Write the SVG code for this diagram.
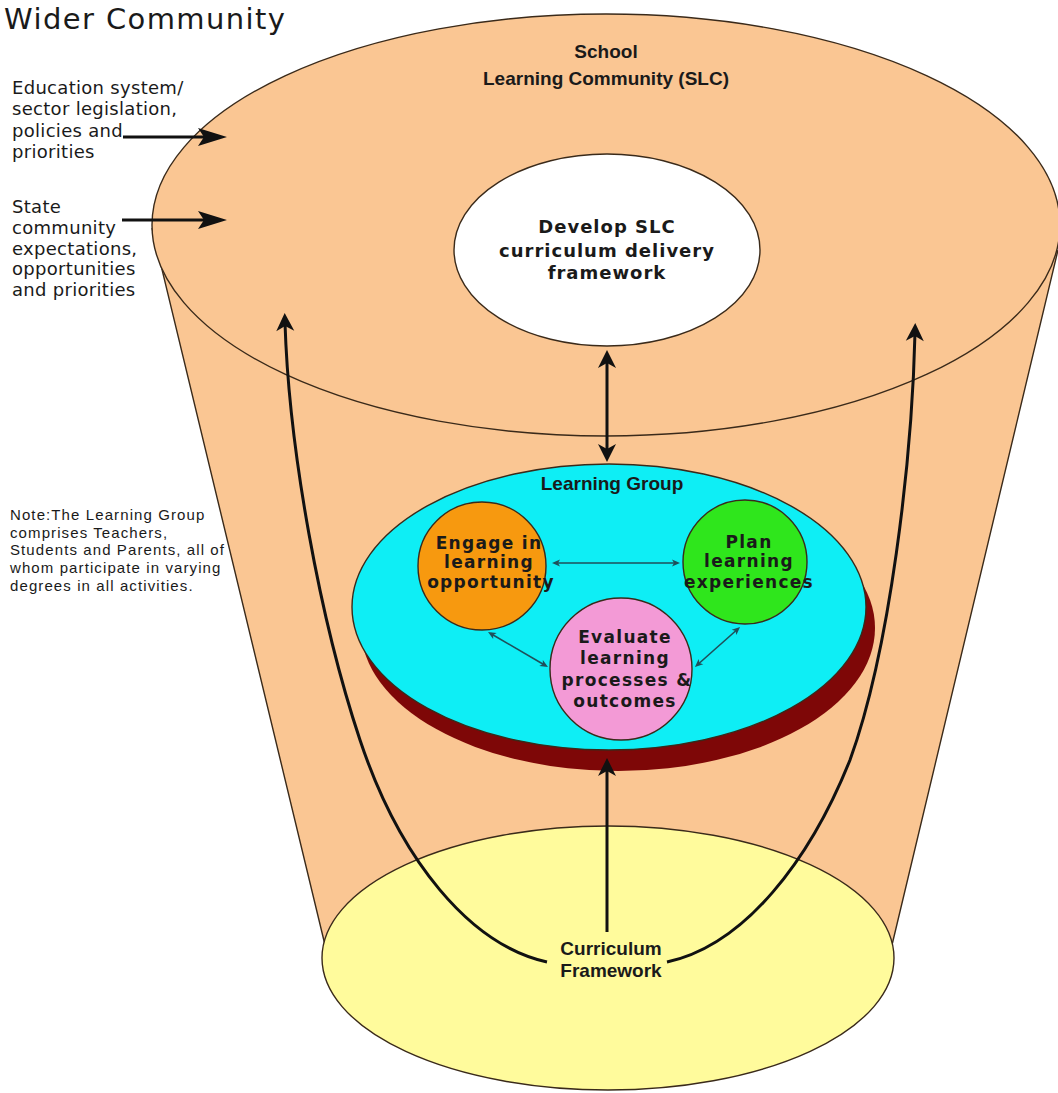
<svg xmlns="http://www.w3.org/2000/svg" width="1058" height="1093" viewBox="0 0 1058 1093">
<defs>
<style>
.edge{stroke:#3a2a1a;stroke-width:1.4;}
.conn{fill:none;stroke:#111;stroke-width:3;}
.small{fill:none;stroke:#1f4f5a;stroke-width:1.6;}
.tVer{font-family:"DejaVu Sans",Verdana,sans-serif;fill:#1a1a1a;}
.tBold{font-family:"DejaVu Sans",Verdana,sans-serif;font-weight:bold;fill:#1a1a1a;}
.tArB{font-family:"Liberation Sans",Arial,sans-serif;font-weight:bold;fill:#1a1a1a;}
.tAr{font-family:"Liberation Sans",Arial,sans-serif;fill:#1a1a1a;}
</style>
<marker id="big" markerUnits="userSpaceOnUse" markerWidth="22" markerHeight="22" viewBox="-20 -11 22 22" refX="-10" refY="0" orient="auto-start-reverse">
<path d="M0,0 L-18,-9 L-13,0 L-18,9 Z" fill="#111"/>
</marker>
<marker id="side" markerUnits="userSpaceOnUse" markerWidth="32" markerHeight="22" viewBox="-30 -11 32 22" refX="-10" refY="0" orient="auto">
<path d="M0,0 L-29,-9 L-23,0 L-29,9 Z" fill="#111"/>
</marker>
<marker id="tiny" markerUnits="userSpaceOnUse" markerWidth="10" markerHeight="10" viewBox="-9 -5 10 10" refX="-3" refY="0" orient="auto-start-reverse">
<path d="M0,0 L-8,-3.5 L-6,0 L-8,3.5 Z" fill="#1f4f5a"/>
</marker>
</defs>
<rect x="0" y="0" width="1058" height="1093" fill="#ffffff"/>

<g id="wider-community">
<text class="tVer" x="4" y="29" font-size="29" letter-spacing="1.4">Wider Community</text>
</g>

<g id="cone">
<path d="M152,228 L325,945 L892,945 L1058,250 Z" fill="#fac693"/>
<path d="M152,228 L325,945 M1058,250 L892,945" class="edge" fill="none"/>
</g>

<g id="slc">
<ellipse cx="606" cy="225" rx="454" ry="211" fill="#fac693" class="edge"/>
<text class="tArB" font-size="19" text-anchor="middle" x="606" y="58">School</text>
<text class="tArB" font-size="19" text-anchor="middle" x="606" y="85">Learning Community (SLC)</text>
</g>

<g id="curriculum-framework">
<ellipse cx="608" cy="958" rx="286" ry="132" fill="#fffb9c" class="edge"/>
</g>

<g id="develop-slc">
<ellipse cx="607" cy="250" rx="153" ry="96" fill="#ffffff" class="edge"/>
<text class="tBold" font-size="18" letter-spacing="1" text-anchor="middle" x="607" y="233">Develop SLC</text>
<text class="tBold" font-size="18" letter-spacing="1" text-anchor="middle" x="607" y="257">curriculum delivery</text>
<text class="tBold" font-size="18" letter-spacing="1" text-anchor="middle" x="607" y="279">framework</text>
</g>

<g id="learning-group">
<ellipse cx="618" cy="628" rx="257" ry="143" fill="#7e0707"/>
<ellipse cx="609" cy="607" rx="257" ry="143" fill="#0eeef5" class="edge"/>
<text class="tArB" font-size="19" text-anchor="middle" x="612" y="490">Learning Group</text>
</g>

<g id="engage">
<circle cx="482" cy="566" r="64" fill="#f7990f" class="edge"/>
</g>
<g id="plan">
<circle cx="745" cy="562" r="62" fill="#2fe61c" class="edge"/>
</g>
<g id="evaluate">
<circle cx="621" cy="669" r="71" fill="#f39ad6" class="edge"/>
</g>

<g id="connectors">
<path class="conn" d="M123,137 L217,137" marker-end="url(#side)"/>
<path class="conn" d="M122,220 L217,220" marker-end="url(#side)"/>
<path class="conn" d="M607,360 L607,452" marker-start="url(#big)" marker-end="url(#big)"/>
<path class="conn" d="M607,932 L607,768" marker-end="url(#big)"/>
<path class="conn" d="M547,962 C470,945 400,860 360,740 C320,620 289,450 285,323" marker-end="url(#big)"/>
<path class="conn" d="M667,962 C745,945 810,860 850,760 C890,650 912,460 915,333" marker-end="url(#big)"/>
<path class="small" d="M555,563 L677,563" marker-start="url(#tiny)" marker-end="url(#tiny)"/>
<path class="small" d="M490.6,633.5 L545.4,665.5" marker-start="url(#tiny)" marker-end="url(#tiny)"/>
<path class="small" d="M737.8,629 L697.2,665" marker-start="url(#tiny)" marker-end="url(#tiny)"/>
</g>

<g id="engage-label">
<text class="tBold" font-size="17" letter-spacing="1.3" text-anchor="middle" x="489" y="549">Engage in</text>
<text class="tBold" font-size="17" letter-spacing="1.3" text-anchor="middle" x="489" y="568">learning</text>
<text class="tBold" font-size="17" letter-spacing="1.3" text-anchor="middle" x="491" y="588">opportunity</text>
</g>
<g id="plan-label">
<text class="tBold" font-size="17" letter-spacing="1.3" text-anchor="middle" x="749" y="548">Plan</text>
<text class="tBold" font-size="17" letter-spacing="1.3" text-anchor="middle" x="749" y="567">learning</text>
<text class="tBold" font-size="17" letter-spacing="1.3" text-anchor="middle" x="749" y="588">experiences</text>
</g>
<g id="evaluate-label">
<text class="tBold" font-size="17" letter-spacing="1.3" text-anchor="middle" x="625" y="643">Evaluate</text>
<text class="tBold" font-size="17" letter-spacing="1.3" text-anchor="middle" x="625" y="664">learning</text>
<text class="tBold" font-size="17" letter-spacing="1.3" text-anchor="middle" x="627" y="686">processes &amp;</text>
<text class="tBold" font-size="17" letter-spacing="1.3" text-anchor="middle" x="625" y="707">outcomes</text>
</g>
<g id="curriculum-label">
<text class="tArB" font-size="19" text-anchor="middle" x="611" y="955">Curriculum</text>
<text class="tArB" font-size="19" text-anchor="middle" x="611" y="977">Framework</text>
</g>

<g id="education-system">
<text class="tVer" font-size="18" letter-spacing="0.3" x="12" y="94">Education system/</text>
<text class="tVer" font-size="18" letter-spacing="0.3" x="12" y="115">sector legislation,</text>
<text class="tVer" font-size="18" letter-spacing="0.3" x="12" y="137">policies and</text>
<text class="tVer" font-size="18" letter-spacing="0.3" x="12" y="158">priorities</text>
</g>
<g id="state-community">
<text class="tVer" font-size="18" letter-spacing="0.3" x="12" y="213">State</text>
<text class="tVer" font-size="18" letter-spacing="0.3" x="12" y="234">community</text>
<text class="tVer" font-size="18" letter-spacing="0.3" x="12" y="255">expectations,</text>
<text class="tVer" font-size="18" letter-spacing="0.3" x="12" y="275">opportunities</text>
<text class="tVer" font-size="18" letter-spacing="0.3" x="12" y="296">and priorities</text>
</g>
<g id="note">
<text class="tAr" font-size="15" letter-spacing="1.1" x="10" y="520">Note:The Learning Group</text>
<text class="tAr" font-size="15" letter-spacing="1.1" x="10" y="537.5">comprises Teachers,</text>
<text class="tAr" font-size="15" letter-spacing="1.1" x="10" y="555">Students and Parents, all of</text>
<text class="tAr" font-size="15" letter-spacing="1.1" x="10" y="573">whom participate in varying</text>
<text class="tAr" font-size="15" letter-spacing="1.1" x="10" y="590.5">degrees in all activities.</text>
</g>
</svg>
